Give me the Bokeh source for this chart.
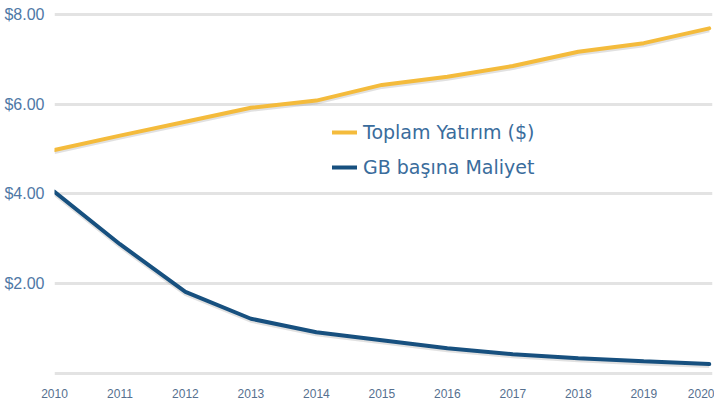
from bokeh.plotting import figure
from bokeh.models import Legend, LegendItem, FixedTicker, ColumnDataSource
from bokeh.embed import file_html
from bokeh.resources import INLINE

years = [2010, 2011, 2012, 2013, 2014, 2015, 2016, 2017, 2018, 2019, 2020]
toplam_yatirim = [4.98, 5.30, 5.61, 5.92, 6.08, 6.43, 6.61, 6.85, 7.17, 7.36, 7.69]
gb_basina_maliyet = [4.05, 2.88, 1.82, 1.22, 0.92, 0.74, 0.56, 0.43, 0.34, 0.27, 0.21]
y_ticks = [2, 4, 6, 8]
y_tick_labels = ["$2.00", "$4.00", "$6.00", "$8.00"]
series_names = ["Toplam Yatırım ($)", "GB başına Maliyet"]

ORANGE = "#f4bb3c"
BLUE = "#17507f"

shadow = 0.045
src = ColumnDataSource(dict(
    x=years,
    a=toplam_yatirim,
    b=gb_basina_maliyet,
    a_s=[v - shadow for v in toplam_yatirim],
    b_s=[v - shadow for v in gb_basina_maliyet],
))

p = figure(frame_width=658, frame_height=366, output_backend="svg", toolbar_location=None,
           x_range=(2010, 2020.05), y_range=(-0.045, 8.11),
           min_border_left=54, min_border_right=2, min_border_top=9, min_border_bottom=20)
p.outline_line_color = None
p.background_fill_color = "white"

# grid
p.xgrid.grid_line_color = None
p.ygrid.ticker = FixedTicker(ticks=[0] + y_ticks)
p.ygrid.grid_line_color = "#e3e3e3"
p.ygrid.grid_line_width = 3

# axes
p.yaxis.ticker = FixedTicker(ticks=y_ticks)
p.yaxis.major_label_overrides = {t: l for t, l in zip(y_ticks, y_tick_labels)}
p.yaxis.axis_line_color = None
p.yaxis.major_tick_line_color = None
p.yaxis.minor_tick_line_color = None
p.yaxis.major_tick_out = 0
p.yaxis.major_tick_in = 0
p.yaxis.major_label_standoff = 10
p.yaxis.major_label_text_font = "Liberation Sans"
p.yaxis.major_label_text_font_size = "16px"
p.yaxis.major_label_text_color = "#4f78a6"

p.xaxis.ticker = FixedTicker(ticks=years)
p.xaxis.major_label_overrides = {y: str(y) for y in years}
p.xaxis.axis_line_color = None
p.xaxis.major_tick_line_color = None
p.xaxis.minor_tick_line_color = None
p.xaxis.major_tick_out = 0
p.xaxis.major_tick_in = 0
p.xaxis.major_label_standoff = 13
p.xaxis.major_label_text_font = "Liberation Sans"
p.xaxis.major_label_text_font_size = "12px"
p.xaxis.major_label_text_color = "#56708f"

# shadows
p.line("x", "a_s", source=src, line_width=4, line_color="#9a9a9a", line_alpha=0.3)
p.line("x", "b_s", source=src, line_width=4, line_color="#9a9a9a", line_alpha=0.3)

r1 = p.line("x", "a", source=src, line_width=4, line_color=ORANGE, line_cap="round")
r2 = p.line("x", "b", source=src, line_width=4, line_color=BLUE, line_cap="round")

legend = Legend(items=[LegendItem(label=series_names[0], renderers=[r1]),
                       LegendItem(label=series_names[1], renderers=[r2])],
                location=(278, 197), background_fill_alpha=0, border_line_color=None,
                glyph_width=25, glyph_height=20, label_height=20, spacing=13,
                label_standoff=6, padding=4, margin=0,
                label_text_font="DejaVu Sans", label_text_font_size="19px",
                label_text_color="#3a6c9c")
p.add_layout(legend)

open("out.html", "w").write(file_html(p, INLINE))
